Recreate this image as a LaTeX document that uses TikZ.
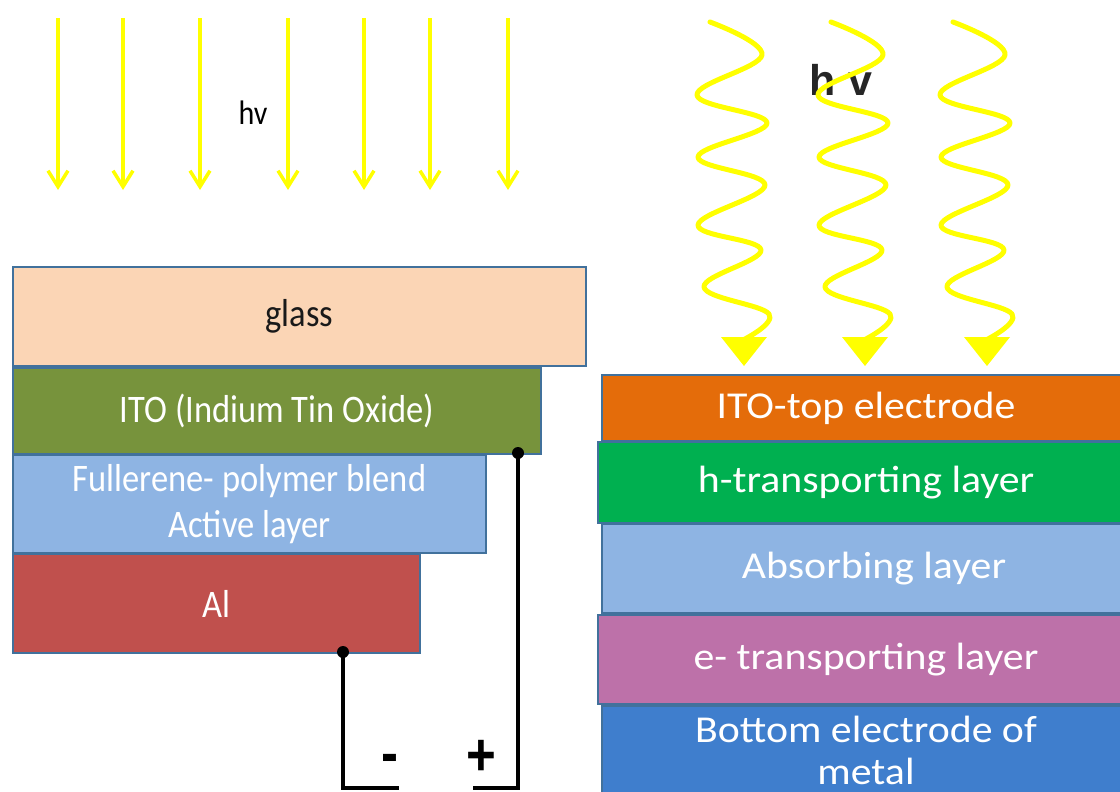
\documentclass[tikz,border=0pt]{standalone}
\usepackage{fontspec}
\setmainfont{Carlito}
\newfontfamily\tallfont[FakeStretch=0.885]{Carlito}
\newfontfamily\widefont[FakeStretch=1.1]{Carlito}
\newfontfamily\arialfont{Liberation Sans}
\newfontfamily\signfont[FakeStretch=0.85]{Liberation Sans}
\usetikzlibrary{arrows.meta}
\definecolor{edgeblue}{HTML}{41719C}
\definecolor{rayyellow}{HTML}{FFFF00}
\definecolor{glassfill}{HTML}{FBD5B5}
\definecolor{itofill}{HTML}{77933C}
\definecolor{blendfill}{HTML}{8EB4E3}
\definecolor{alfill}{HTML}{C0504D}
\definecolor{topfill}{HTML}{E46C0A}
\definecolor{htfill}{HTML}{00B050}
\definecolor{absfill}{HTML}{8EB4E3}
\definecolor{etfill}{HTML}{BD71A9}
\definecolor{botfill}{HTML}{3F7ECD}
\tikzset{
  layer/.style={draw=edgeblue, line width=2pt, anchor=north west, inner sep=0pt,
    align=center, text=white, font=\tallfont\fontsize{39}{46}\selectfont},
  rlayer/.style={layer, font=\widefont\fontsize{38}{42}\selectfont},
  ray/.style={draw=rayyellow, line width=3.5pt,
    -{Straight Barb[length=16pt,width=20pt,line width=3.5pt]}},
  wave/.style={draw=rayyellow, line width=5pt, line cap=round, line join=round},
  dotnode/.style={circle, fill=black, inner sep=0pt, minimum size=12pt},
  wire/.style={draw=black, line width=4pt, line join=miter},
  sign/.style={font=\signfont\bfseries\fontsize{60}{64}\selectfont, inner sep=0pt, anchor=base}
}
\begin{document}
\begin{tikzpicture}[x=1pt,y=-1pt]
\useasboundingbox (0,0) rectangle (1120,792);
\clip (0,0) rectangle (1120,792);
\fill[white] (0,0) rectangle (1120,792);

% straight rays (left)
\foreach \x in {58,123,200,288,364,430,508}
  \draw[ray] (\x,18) -- (\x,190);
\node[font=\tallfont\fontsize{34}{38}\selectfont] (hvleft) at (253,113) {hv};

% wavy rays (right)
\node[font=\arialfont\bfseries\fontsize{43}{48}\selectfont, text=black!85] (hvright) at (841,80) {h v};
\foreach \dx in {0,121,243}{
  \begin{scope}[xshift=\dx]
    \draw[wave] plot[smooth, tension=0.65] coordinates {(710,22) (762,55) (697,95) (767,123) (698,157) (765,185) (698,225) (761,250) (704,287) (769,314) (743,340)};
    \fill[rayyellow] (721,337) -- (767,337) -- (744,366) -- cycle;
  \end{scope}
}

% left stack
\node[layer, fill=glassfill, text=black!90, minimum width=573pt, minimum height=99pt] (glass) at (12,266) {glass};
\node[layer, fill=itofill, minimum width=528pt, minimum height=86pt] (ito) at (12,367) {ITO (Indium Tin Oxide)};
\node[layer, fill=blendfill, minimum width=473pt, minimum height=98pt] (blend) at (12,454) {Fullerene- polymer blend\\Active layer};
\node[layer, fill=alfill, minimum width=407pt, minimum height=99pt] (al) at (12,553) {Al};

% circuit
\node[dotnode] (plusdot) at (518,453) {};
\node[dotnode] (minusdot) at (343,652) {};
\coordinate (pcorner) at (518,788);
\coordinate (pend) at (473,788);
\coordinate (mcorner) at (343,788);
\coordinate (mend) at (399,788);
\draw[wire] (plusdot.center) -- (pcorner) -- (pend);
\draw[wire] (minusdot.center) -- (mcorner) -- (mend);
\node[sign] (minus) at (390,773) {-};
\node[sign] (plus) at (481,775) {+};

% right stack
\node[rlayer, fill=topfill, minimum width=528pt, minimum height=66pt] (top) at (601,374) {ITO-top electrode};
\node[rlayer, fill=htfill, minimum width=536pt, minimum height=81pt] (ht) at (597,441) {h-transporting layer};
\node[rlayer, fill=absfill, minimum width=528pt, minimum height=89pt] (abs) at (601,523) {\hspace*{16pt}Absorbing layer};
\node[rlayer, fill=etfill, minimum width=536pt, minimum height=89pt] (et) at (597,614) {e- transporting layer};
\node[rlayer, fill=botfill, minimum width=528pt, minimum height=89pt] (bot) at (601,705) {Bottom electrode of\\metal};
\end{tikzpicture}
\end{document}
